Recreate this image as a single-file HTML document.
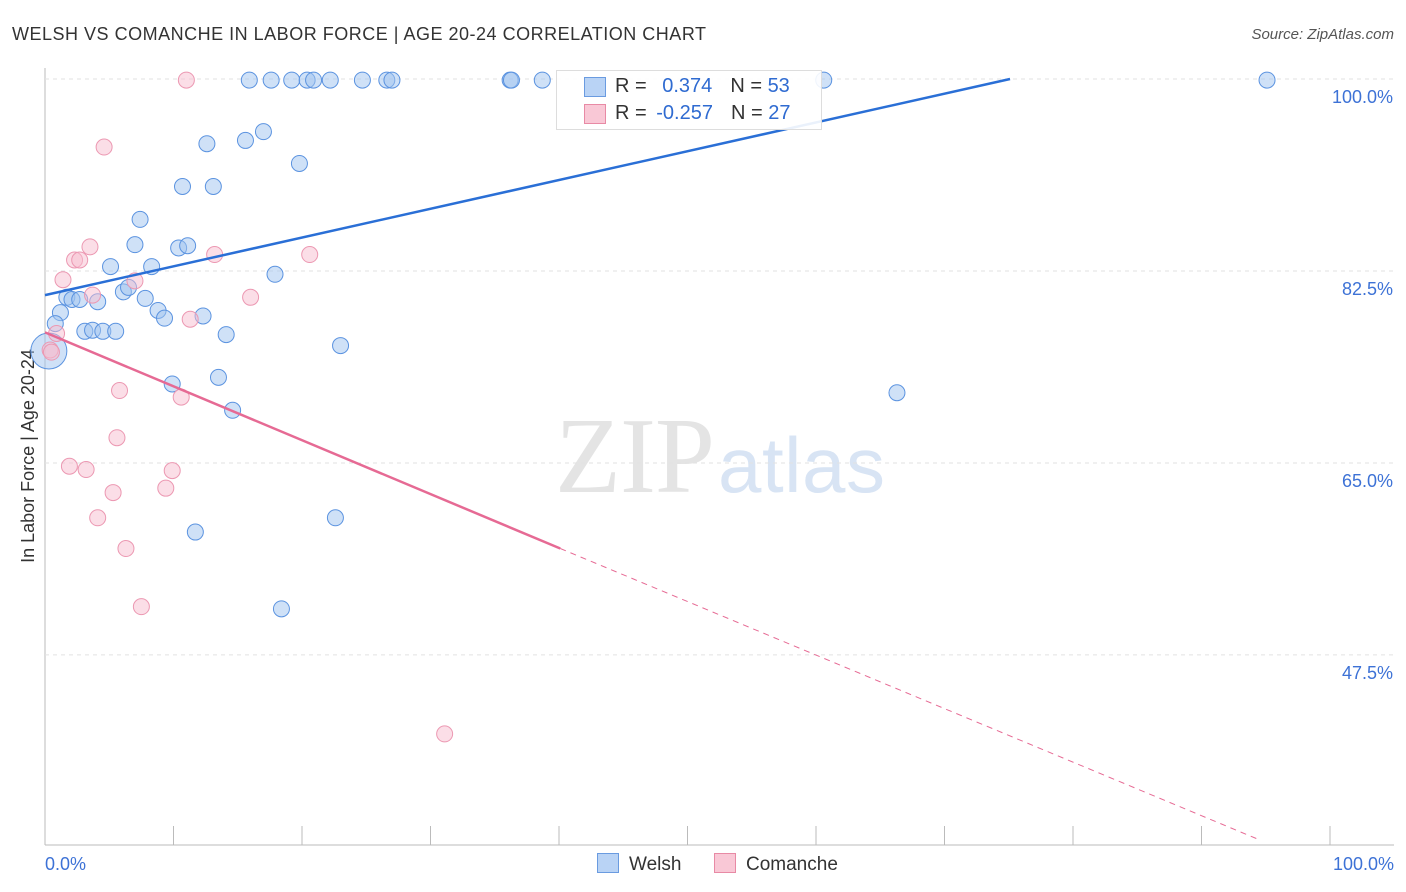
<!DOCTYPE html>
<html><head><meta charset="utf-8">
<style>
body{margin:0;background:#fff;font-family:"Liberation Sans",sans-serif;}
#wrap{position:relative;width:1406px;height:892px;overflow:hidden;}
</style></head>
<body>
<div id="wrap">
<svg id="svg" width="1406" height="892" xmlns="http://www.w3.org/2000/svg">
<text x="12" y="40" font-size="18" fill="#333" textLength="694">WELSH VS COMANCHE IN LABOR FORCE | AGE 20-24 CORRELATION CHART</text>
<text x="1394" y="39" font-size="15" fill="#555" font-style="italic" text-anchor="end">Source: ZipAtlas.com</text>
<text x="555" y="492" font-size="108" fill="#e4e4e4" font-family="Liberation Serif,serif" textLength="160">ZIP</text>
<text x="718" y="492" font-size="78" fill="#d8e4f4" textLength="167">atlas</text>
<text transform="translate(34,456) rotate(-90)" font-size="18" fill="#333" text-anchor="middle">In Labor Force | Age 20-24</text>
<g id="grid"></g><g id="marks"></g><g id="lines"></g>
</svg>
<div style="position:absolute;left:556px;top:70px;width:264px;height:58px;border:1px solid #ddd;background:rgba(255,255,255,0.9);font-size:20px;color:#333">
 <div style="position:absolute;left:27px;top:6px;width:20px;height:18px;background:#b9d3f5;border:1px solid #6a9be0"></div>
 <div style="position:absolute;left:58px;top:4px">R = <span style="color:#2f6bd1;margin-left:10px">0.374</span><span style="margin-left:18px">N = </span><span style="color:#2f6bd1">53</span></div>
 <div style="position:absolute;left:27px;top:33px;width:20px;height:18px;background:#f9c8d6;border:1px solid #e88aa5"></div>
 <div style="position:absolute;left:58px;top:31px">R = <span style="color:#2f6bd1;margin-left:4px">-0.257</span><span style="margin-left:18px">N = </span><span style="color:#2f6bd1">27</span></div>
</div>
<div style="position:absolute;left:597px;top:853px;font-size:19px;color:#333"><span style="display:inline-block;width:20px;height:18px;background:#b9d3f5;border:1px solid #6a9be0;vertical-align:-3px;margin-right:10px"></span>Welsh</div>
<div style="position:absolute;left:714px;top:853px;font-size:19px;color:#333"><span style="display:inline-block;width:20px;height:18px;background:#f9c8d6;border:1px solid #e88aa5;vertical-align:-3px;margin-right:10px"></span>Comanche</div>
</div>
<script>
const yTicks=[100,82.5,65,47.5];
const yTickLabels=["100.0%","82.5%","65.0%","47.5%"];
const welshPx=[[249,80],[271,80],[292,80],[307,80],[314,80],[330,80],[362,80],[387,80],[392,80],[510,80],[512,80],[542,80],[824,80],[1267,80],[263,132],[207,144],[245,140],[299,163],[183,187],[213,187],[140,219],[135,245],[179,248],[188,246],[110,267],[152,267],[275,274],[67,297],[72,299],[80,300],[98,302],[123,292],[128,287],[145,298],[158,311],[165,318],[203,316],[60,313],[55,324],[85,331],[93,330],[103,331],[116,331],[226,335],[341,346],[172,384],[218,377],[233,410],[897,393],[195,532],[335,518],[282,609]];
const comPx=[[186,80],[104,147],[90,247],[75,260],[80,260],[63,280],[135,281],[215,254],[310,254],[93,295],[250,297],[190,319],[57,333],[50,350],[52,352],[120,391],[181,397],[117,438],[69,466],[86,470],[172,471],[166,488],[113,493],[98,518],[126,548],[142,607],[445,734]];
const welshX=welshPx.map(p=>+((p[0]-45)/12.85).toFixed(1));
const welshY=welshPx.map(p=>+(100-(p[1]-79)/10.97).toFixed(1));
const comX=comPx.map(p=>+((p[0]-45)/12.85).toFixed(1));
const comY=comPx.map(p=>+(100-(p[1]-79)/10.97).toFixed(1));
const welshTrend=[0,80.3,75.1,100];
const comTrend=[0,76.9,40.1,57.2,94.6,30.6];
const X=v=>45+v*12.85, Y=v=>79+(100-v)*10.97;
const NS="http://www.w3.org/2000/svg";
function mk(parent,tag,attrs){const e=document.createElementNS(NS,tag);for(const k in attrs)e.setAttribute(k,attrs[k]);document.getElementById(parent).appendChild(e);return e;}
let ax=mk('grid','line',{x1:45,y1:68,x2:45,y2:845,stroke:'#bbb'});


let bx=mk('grid','line',{x1:45,y1:845,x2:1394,y2:845,stroke:'#bbb'});


yTicks.forEach((t,i)=>{
 let g=mk('grid','line',{x1:45,x2:1394,y1:Y(t),y2:Y(t),stroke:'#e2e2e2','stroke-dasharray':'4,4'});
 
 
 let l=mk('grid','text',{x:1393,y:Y(t)+24,'font-size':18,fill:'#3d72d6','text-anchor':'end'});
 l.textContent=yTickLabels[i];
 
 
});
for(let i=1;i<=10;i++){let t=mk('grid','line',{x1:X(i*10),x2:X(i*10),y1:826,y2:845,stroke:'#bbb'});
 
 }
let x0=mk('grid','text',{x:45,y:870,'font-size':18,fill:'#3d72d6'});x0.textContent='0.0%';


let x1=mk('grid','text',{x:1394,y:870,'font-size':18,fill:'#3d72d6','text-anchor':'end'});x1.textContent='100.0%';


welshX.forEach((v,i)=>{let c=mk('marks','circle',{cx:X(v),cy:Y(welshY[i]),r:8,fill:'rgba(160,196,240,0.5)',stroke:'#5b93e0','stroke-width':1});
 
 });
let big=mk('marks','circle',{cx:X(0.3),cy:Y(75.2),r:18,fill:'rgba(160,196,240,0.5)',stroke:'#5b93e0'});


comX.forEach((v,i)=>{let c=mk('marks','circle',{cx:X(v),cy:Y(comY[i]),r:8,fill:'rgba(248,190,208,0.5)',stroke:'#ec98b2','stroke-width':1});
 
 });
let wl=mk('lines','line',{x1:X(welshTrend[0]),y1:Y(welshTrend[1]),x2:X(welshTrend[2]),y2:Y(welshTrend[3]),stroke:'#2a6fd6','stroke-width':2.5});


let cl=mk('lines','line',{x1:X(comTrend[0]),y1:Y(comTrend[1]),x2:X(comTrend[2]),y2:Y(comTrend[3]),stroke:'#e66a94','stroke-width':2.5});


let cd=mk('lines','line',{x1:X(comTrend[2]),y1:Y(comTrend[3]),x2:X(comTrend[4]),y2:Y(comTrend[5]),stroke:'#e66a94','stroke-width':1,'stroke-dasharray':'6,5'});


</script>
</body></html>
